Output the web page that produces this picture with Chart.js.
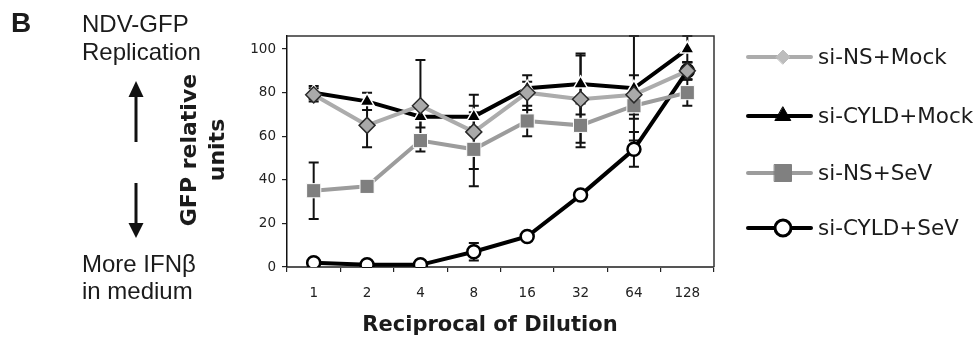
<!DOCTYPE html>
<html>
<head>
<meta charset="utf-8">
<script src="https://cdn.jsdelivr.net/npm/chart.js@4.4.1/dist/chart.umd.min.js"></script>
<style>
    html, body { margin: 0; padding: 0; background: #fff; }
    #wrap { position: relative; width: 979px; height: 341px; overflow: hidden; }
    #gfpChart { position: absolute; left: 0; top: 0; }
    .txt { position: absolute; white-space: nowrap; color: #1b1b1b; }
    .arial { font-family: "Liberation Sans", Arial, sans-serif; font-size: 24px; line-height: 28px; }
    .legend-label { font-family: "DejaVu Sans", Verdana, sans-serif; font-size: 21.5px; line-height: 24px; color: #1b1b1b; }
    .axis-title { font-family: "DejaVu Sans", Verdana, sans-serif; font-weight: bold; font-size: 21px; }
</style>
</head>
<body>
<div id="wrap">
    <canvas id="gfpChart" width="979" height="341"></canvas>

    <div class="txt" style="left:11px; top:9px; font:bold 28px/28px 'Liberation Sans', Arial, sans-serif;">B</div>
    <div class="txt arial" style="left:82px; top:10px;">NDV-GFP<br>Replication</div>
    <div class="txt arial" style="left:82px; top:250px; line-height:27px;">More IFNβ<br>in medium</div>

    <svg class="txt" style="left:0; top:0;" width="240" height="341">
        <line x1="136" y1="95" x2="136" y2="142" stroke="#111" stroke-width="3"/>
        <polygon points="136,81 128.5,97 143.5,97" fill="#111"/>
        <line x1="136" y1="183" x2="136" y2="225" stroke="#111" stroke-width="3"/>
        <polygon points="136,238 128.5,223 143.5,223" fill="#111"/>
    </svg>

    <div class="txt axis-title" style="left:103px; top:122px; width:200px; height:56px; line-height:28px; text-align:center; font-size:22px; transform:rotate(-90deg);">GFP relative<br>units</div>
    <div class="txt axis-title" style="left:290px; top:312px; width:400px; text-align:center;">Reciprocal of Dilution</div>

    <div class="txt legend-label" style="left:818px; top:45px;">si-NS+Mock</div>
    <div class="txt legend-label" style="left:818px; top:104px;">si-CYLD+Mock</div>
    <div class="txt legend-label" style="left:818px; top:161px;">si-NS+SeV</div>
    <div class="txt legend-label" style="left:818px; top:216px;">si-CYLD+SeV</div>
</div>

<script>
// values (GFP relative units)
const dilutions = ["1", "2", "4", "8", "16", "32", "64", "128"];
const yTicks = [0, 20, 40, 60, 80, 100];

const nsMock = [79, 65, 74, 62, 80, 77, 79, 90];
const nsMockErr = [3, 10, 21, 17, 8, 20, 9, 4];

const cyldMock = [80, 76, 69, 69, 82, 84, 82, 100];
const cyldMockErr = [3, 4, 5, 5, 3, 14, 24, 6];

const nsSev = [35, 37, 58, 54, 67, 65, 74, 80];
const nsSevErr = [13, 2, 2, 17, 7, 10, 6, 6];

const cyldSev = [2, 1, 1, 7, 14, 33, 54, 90];
const cyldSevErr = [1, 1, 1, 4, 2, 2, 8, 4];

const legendRows = [57, 116, 173, 228];

const errorBars = {
    id: "errorBars",
    beforeDatasetsDraw(chart) {
        const { ctx, scales: { x, y } } = chart;
        ctx.save();
        ctx.strokeStyle = "#111";
        ctx.lineWidth = 2;
        chart.data.datasets.forEach((ds) => {
            ds.errors.forEach((err, i) => {
                const px = x.getPixelForValue(i);
                const top = y.getPixelForValue(ds.data[i] + err);
                const bot = y.getPixelForValue(ds.data[i] - err);
                ctx.beginPath();
                ctx.moveTo(px, top);
                ctx.lineTo(px, bot);
                ctx.moveTo(px - 5, top);
                ctx.lineTo(px + 5, top);
                ctx.moveTo(px - 5, bot);
                ctx.lineTo(px + 5, bot);
                ctx.stroke();
            });
        });
        ctx.restore();
    }
};

const frameAndLegend = {
    id: "frameAndLegend",
    afterDraw(chart) {
        const { ctx, chartArea: a } = chart;
        ctx.save();
        ctx.strokeStyle = "#333";
        ctx.lineWidth = 1.5;
        ctx.beginPath();
        ctx.moveTo(a.left, a.top);
        ctx.lineTo(a.right, a.top);
        ctx.lineTo(a.right, a.bottom);
        ctx.stroke();

        // legend samples: line + marker
        chart.data.datasets.forEach((ds, i) => {
            const yy = legendRows[i];
            ctx.strokeStyle = ds.borderColor;
            ctx.lineWidth = 4;
            ctx.lineCap = "round";
            ctx.beginPath();
            ctx.moveTo(748, yy);
            ctx.lineTo(811, yy);
            ctx.stroke();
            ctx.fillStyle = ds.legendFill;
            ctx.strokeStyle = ds.legendStroke;
            ctx.lineWidth = ds.legendBorder;
            Chart.helpers.drawPoint(ctx, {
                pointStyle: ds.pointStyle,
                radius: ds.legendRadius,
                borderWidth: ds.legendBorder
            }, 783, yy);
        });
        ctx.restore();
    }
};

new Chart(document.querySelector("#gfpChart"), {
    type: "line",
    data: {
        labels: dilutions,
        datasets: [
            {
                label: "si-NS+Mock",
                data: nsMock,
                errors: nsMockErr,
                borderColor: "#acacac",
                borderWidth: 4,
                pointStyle: "rectRot",
                pointRadius: 8,
                pointBackgroundColor: "#a9a9a9",
                pointBorderColor: "#2a2a2a",
                pointBorderWidth: 1.5,
                legendRadius: 7,
                legendFill: "#bdbdbd",
                legendStroke: "#bdbdbd",
                legendBorder: 1
            },
            {
                label: "si-CYLD+Mock",
                data: cyldMock,
                errors: cyldMockErr,
                borderColor: "#000",
                borderWidth: 4,
                pointStyle: "triangle",
                pointRadius: 8,
                pointBackgroundColor: "#000",
                pointBorderColor: "#fff",
                pointBorderWidth: 1.5,
                legendRadius: 9,
                legendFill: "#000",
                legendStroke: "#000",
                legendBorder: 1
            },
            {
                label: "si-NS+SeV",
                data: nsSev,
                errors: nsSevErr,
                borderColor: "#9c9c9c",
                borderWidth: 4,
                pointStyle: "rect",
                pointRadius: 10,
                pointBackgroundColor: "#7f7f7f",
                pointBorderColor: "#fff",
                pointBorderWidth: 1,
                legendRadius: 12,
                legendFill: "#808080",
                legendStroke: "#808080",
                legendBorder: 1
            },
            {
                label: "si-CYLD+SeV",
                data: cyldSev,
                errors: cyldSevErr,
                borderColor: "#000",
                borderWidth: 4,
                pointStyle: "circle",
                pointRadius: 6.5,
                pointBackgroundColor: "#fff",
                pointBorderColor: "#000",
                pointBorderWidth: 2.5,
                legendRadius: 8,
                legendFill: "#fff",
                legendStroke: "#000",
                legendBorder: 3
            }
        ]
    },
    options: {
        responsive: false,
        animation: false,
        tension: 0,
        layout: { padding: { left: 0, right: 265, top: 36, bottom: 0 } },
        plugins: { legend: { display: false }, tooltip: { enabled: false } },
        scales: {
            x: {
                offset: true,
                afterFit: (scale) => { scale.height = 74; },
                grid: { offset: true, drawOnChartArea: false, tickLength: 5, color: "#222", lineWidth: 1.2 },
                border: { color: "#555", width: 2 },
                ticks: { color: "#222", padding: 13, font: { family: "DejaVu Sans", size: 13.5 } }
            },
            y: {
                min: 0,
                max: 106,
                afterFit: (scale) => { scale.width = 287; },
                afterBuildTicks: (scale) => { scale.ticks = yTicks.map((v) => ({ value: v })); },
                grid: { drawOnChartArea: false, tickLength: 5, color: "#222", lineWidth: 1.2 },
                border: { color: "#111", width: 1.5 },
                ticks: { color: "#222", padding: 6, font: { family: "DejaVu Sans", size: 13.5 } }
            }
        }
    },
    plugins: [errorBars, frameAndLegend]
});
</script>
</body>
</html>
